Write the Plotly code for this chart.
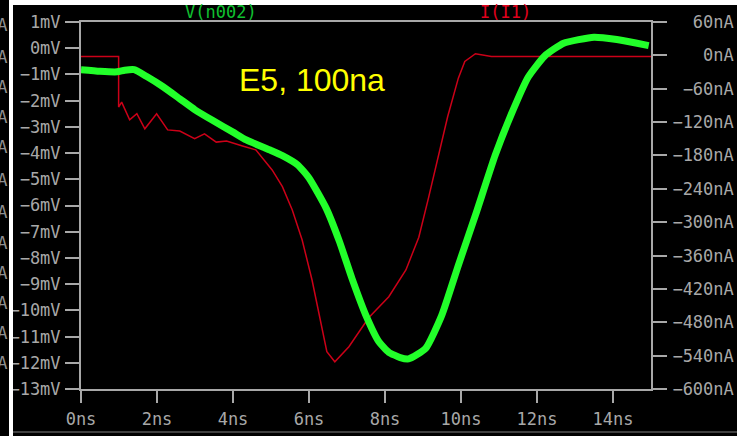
import plotly.graph_objects as go

# ---- data ----
v_t = [0, 0.5, 0.95, 1.15, 1.4, 1.73, 2.15, 2.6, 3.0, 3.46, 4.0, 4.35, 5.0, 5.3, 5.7, 6.0, 6.45, 6.8,
       7.13, 7.5, 7.84, 8.1, 8.4, 8.62, 9.07, 9.49, 9.93, 10.38, 10.9, 11.3, 11.77, 12.2, 12.7,
       13.5, 14.1, 14.6, 14.94]
v_mv = [-0.82, -0.88, -0.9, -0.84, -0.82, -1.08, -1.46, -1.93, -2.35, -2.75, -3.2, -3.5, -3.9, -4.1,
        -4.45, -4.95, -6.1, -7.37, -8.78, -10.2, -11.2, -11.6, -11.8, -11.85, -11.45, -10.2, -8.28,
        -6.37, -4.08, -2.6, -1.1, -0.3, 0.19, 0.42, 0.33, 0.2, 0.1]

i_t = [0, 0.99, 0.99, 1.07, 1.28, 1.47, 1.68, 1.99, 2.28, 2.6, 2.99, 3.25, 3.56, 3.83, 4.25, 4.6,
       5.03, 5.3, 5.56, 5.82, 6.08, 6.32, 6.47, 6.68, 7.05, 7.57, 8.1, 8.55, 8.89, 9.15, 9.36, 9.65,
       9.93, 10.1, 10.38, 10.55, 10.8, 15]
i_na = [-2, -2, -93, -84, -116, -105, -132, -105, -134, -136, -150, -141, -156, -154, -163, -170,
        -206, -236, -278, -332, -404, -481, -533, -551, -524, -472, -434, -386, -327, -255, -194, -110,
        -41, -11, 3, 1, -2, -2]

x_ticks = [0, 2, 4, 6, 8, 10, 12, 14]
x_ticktext = ["0ns", "2ns", "4ns", "6ns", "8ns", "10ns", "12ns", "14ns"]
mv_ticks = list(range(1, -14, -1))
mv_ticktext = [("\u2212" if v < 0 else "") + f"{abs(v)}mV" for v in mv_ticks]
na_ticks = list(range(60, -601, -60))
na_ticktext = [(("\u2212" if v < 0 else "") + f"{abs(v)}nA").rjust(6, "\u00a0") for v in na_ticks]

W, H = 737, 436
L, R, T, B = 81, 651, 22, 389

def px(x):
    return (x - L) / (R - L)

def py(y):
    return (B - y) / (B - T)

GRAY = "#a8a8a8"
MONO = "DejaVu Sans Mono"

fig = go.Figure()
fig.add_trace(go.Scatter(x=i_t, y=i_na, mode="lines", yaxis="y",
                         line=dict(color="#cc0018", width=1.5), name="I(I1)"))
fig.add_trace(go.Scatter(x=v_t, y=v_mv, mode="lines", yaxis="y2",
                         line=dict(color="#22ff2a", width=7, shape="spline", smoothing=0.5),
                         name="V(n002)"))

axis_common = dict(showgrid=False, zeroline=False, showline=True, linecolor=GRAY, linewidth=2,
                   ticks="outside", tickcolor=GRAY, tickwidth=2, automargin=False,
                   tickfont=dict(family=MONO, size=17, color=GRAY))

fig.update_layout(
    width=W, height=H, margin=dict(l=L, r=W - R, t=T, b=H - B, autoexpand=False),
    paper_bgcolor="black", plot_bgcolor="black", showlegend=False,
    xaxis=dict(range=[0, 15], tickvals=x_ticks, ticktext=x_ticktext, ticklen=12,
               mirror=True, ticklabelstandoff=2, **axis_common),
    yaxis=dict(range=[-600, 60], tickvals=na_ticks, ticktext=na_ticktext, side="right",
               ticklen=14, ticklabelstandoff=2, **axis_common),
    yaxis2=dict(range=[-13, 1], tickvals=mv_ticks, ticktext=mv_ticktext, side="left",
                overlaying="y", ticklen=14, ticklabelstandoff=1, **axis_common),
)

ann = []
ann.append(dict(x=px(221), y=py(12), text="V(n002)", font=dict(family=MONO, size=17, color="#10c030")))
ann.append(dict(x=px(505), y=py(12), text="I(I1)", font=dict(family=MONO, size=17, color="#e0001c")))
ann.append(dict(x=px(312), y=py(80), text="E5, 100na",
                font=dict(family="Liberation Sans", size=32, color="#ffff00")))
# cut-off strip at bottom
ann.append(dict(x=px(221), y=py(432), yanchor="top", text="V(n002)",
                font=dict(family=MONO, size=17, color="#10c030")))
ann.append(dict(x=px(505), y=py(432), yanchor="top", text="I(I1)",
                font=dict(family=MONO, size=17, color="#e0001c")))
# cut-off labels at far left
for yy in [25, 57, 87, 117, 147, 180, 212, 243, 273, 303, 333, 363]:
    ann.append(dict(x=px(9), y=py(yy), xanchor="right", text="nA",
                    font=dict(family=MONO, size=17, color="#909090")))
for a in ann:
    a.setdefault("xanchor", "center")
    a.setdefault("yanchor", "middle")
    a.update(xref="paper", yref="paper", showarrow=False)
fig.update_layout(annotations=ann)

shapes = [
    dict(type="rect", x0=px(9), x1=px(13), y0=py(0), y1=py(H), fillcolor="white", line_width=0),
    dict(type="rect", x0=px(13), x1=px(W), y0=py(0), y1=py(5), fillcolor="white", line_width=0),
    dict(type="line", x0=px(13), x1=px(W), y0=py(432), y1=py(432), line=dict(color="#404040", width=2)),
]
for s in shapes:
    s.update(xref="paper", yref="paper", layer="above")
fig.update_layout(shapes=shapes)

fig.write_html("out.html")
